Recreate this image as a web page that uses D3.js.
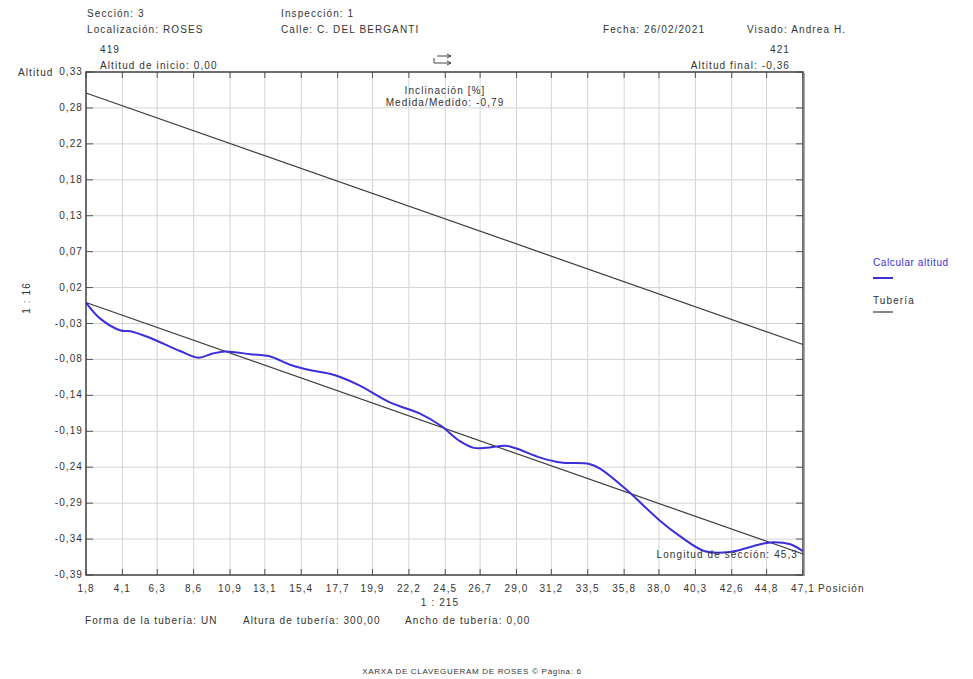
<!DOCTYPE html>
<html>
<head>
<meta charset="utf-8">
<script src="https://cdn.jsdelivr.net/npm/d3@7"></script>
<style>
  body { margin: 0; background: #fff; }
  svg text { font-family: "Liberation Sans", Arial, sans-serif; font-size: 10px; fill: #333; letter-spacing: 1.1px; }
</style>
</head>
<body>
<div id="chart"></div>
<script>
// section profile data
var xTickValues = [1.8, 4.1, 6.3, 8.6, 10.9, 13.1, 15.4, 17.7, 19.9, 22.2, 24.5, 26.7, 29.0, 31.2, 33.5, 35.8, 38.0, 40.3, 42.6, 44.8, 47.1];
var yTickLabels = ["0,33", "0,28", "0,22", "0,18", "0,13", "0,07", "0,02", "-0,03", "-0,08", "-0,14", "-0,19", "-0,24", "-0,29", "-0,34", "-0,39"];
var yDomain = [-0.39, 0.33];

// measured altitude ("Calcular altitud")
var posicion = [1.8, 2.7, 4.0, 4.6, 5.8, 7.7, 8.9, 9.8, 10.6, 12.2, 13.4, 14.7, 16.0, 17.2, 17.9, 19.1, 21.0, 22.9, 24.2, 25.4, 26.3, 27.1, 28.3, 29.0, 30.5, 31.8, 33.6, 34.3, 35.9, 38.1, 39.3, 40.9, 42.5, 44.4, 45.2, 46.3, 47.1];
var altitud = [0.000, -0.023, -0.040, -0.041, -0.050, -0.069, -0.079, -0.073, -0.070, -0.074, -0.077, -0.089, -0.097, -0.102, -0.107, -0.119, -0.143, -0.159, -0.176, -0.198, -0.208, -0.208, -0.205, -0.209, -0.222, -0.229, -0.231, -0.238, -0.267, -0.313, -0.334, -0.356, -0.357, -0.346, -0.343, -0.346, -0.356];

// pipe (Tubería): invert from start to end altitude, crown = invert + pipe height
var tuberiaX = [1.8, 47.1];
var tuberiaInvert = [0.00, -0.36];
var pipeHeight = 0.30;

const W = 973, H = 679;
const pLeft = 86, pRight = 803, pTop = 72, pBottom = 575;

var svg = d3.select("#chart").append("svg")
  .attr("width", W)
  .attr("height", H);

var x = d3.scaleLinear().domain([1.8, 47.1]).range([pLeft, pRight]);
var y = d3.scaleLinear().domain(yDomain).range([pBottom, pTop]);
var yLab = d3.scalePoint().domain(yTickLabels).range([pTop, pBottom]);

// grid
svg.append("g").selectAll("line")
  .data(xTickValues).enter().append("line")
  .attr("x1", d => x(d)).attr("x2", d => x(d))
  .attr("y1", pTop).attr("y2", pBottom)
  .style("stroke", "#d4d4d4").style("stroke-width", 1);

svg.append("g").selectAll("line")
  .data(yTickLabels).enter().append("line")
  .attr("x1", pLeft).attr("x2", pRight)
  .attr("y1", d => yLab(d)).attr("y2", d => yLab(d))
  .style("stroke", "#d4d4d4").style("stroke-width", 1);

// inner tick marks
var tk = svg.append("g").style("stroke", "#555").style("stroke-width", 1);
xTickValues.forEach(function(d) {
  tk.append("line").attr("x1", x(d)).attr("x2", x(d)).attr("y1", pTop).attr("y2", pTop + 6);
  tk.append("line").attr("x1", x(d)).attr("x2", x(d)).attr("y1", pBottom).attr("y2", pBottom - 6);
});
yTickLabels.forEach(function(d) {
  tk.append("line").attr("x1", pLeft).attr("x2", pLeft + 7).attr("y1", yLab(d)).attr("y2", yLab(d));
  tk.append("line").attr("x1", pRight).attr("x2", pRight - 7).attr("y1", yLab(d)).attr("y2", yLab(d));
});

// frame
svg.append("rect")
  .attr("x", pLeft).attr("y", pTop)
  .attr("width", pRight - pLeft).attr("height", pBottom - pTop)
  .style("fill", "none").style("stroke", "#444").style("stroke-width", 1.5);
svg.append("line").attr("x1", pRight + 1).attr("x2", pRight + 1).attr("y1", pTop + 1).attr("y2", pBottom + 1)
  .style("stroke", "#888").style("stroke-width", 1.5);

// pipe lines
var line = d3.line().x(d => x(d[0])).y(d => y(d[1]));
var invertPts = tuberiaX.map((d, i) => [d, tuberiaInvert[i]]);
var crownPts = tuberiaX.map((d, i) => [d, tuberiaInvert[i] + pipeHeight]);
svg.append("path").attr("d", line(crownPts))
  .style("fill", "none").style("stroke", "#3a3a3a").style("stroke-width", 1.2);
svg.append("path").attr("d", line(invertPts))
  .style("fill", "none").style("stroke", "#3a3a3a").style("stroke-width", 1.2);

// measured profile
var medido = posicion.map((d, i) => [d, altitud[i]]);
svg.append("path")
  .attr("d", d3.line().x(d => x(d[0])).y(d => y(d[1])).curve(d3.curveCatmullRom)(medido))
  .style("fill", "none").style("stroke", "#3b2fd8").style("stroke-width", 2);

// axis labels
svg.append("g").selectAll("text")
  .data(yTickLabels).enter().append("text")
  .attr("x", pLeft - 3).attr("y", d => yLab(d) + 3)
  .attr("text-anchor", "end")
  .text(d => d);

svg.append("g").selectAll("text")
  .data(xTickValues).enter().append("text")
  .attr("x", d => x(d)).attr("y", pBottom + 17)
  .attr("text-anchor", "middle")
  .text(d => d.toFixed(1).replace(".", ","));

svg.append("text").attr("x", 18).attr("y", 76).text("Altitud");
svg.append("text").attr("x", 818).attr("y", pBottom + 17).text("Posición");
svg.append("text").attr("x", 440).attr("y", 606).attr("text-anchor", "middle").text("1 : 215");
svg.append("text").attr("transform", "translate(30,298) rotate(-90)").attr("text-anchor", "middle").text("1 : 16");

// header
svg.append("text").attr("x", 87).attr("y", 17).text("Sección:  3");
svg.append("text").attr("x", 87).attr("y", 33).text("Localización:  ROSES");
svg.append("text").attr("x", 281).attr("y", 17).text("Inspección:  1");
svg.append("text").attr("x", 281).attr("y", 33).text("Calle:  C. DEL  BERGANTI");
svg.append("text").attr("x", 603).attr("y", 33).text("Fecha:  26/02/2021");
svg.append("text").attr("x", 747).attr("y", 33).text("Visado:  Andrea H.");

svg.append("text").attr("x", 100).attr("y", 53).text("419");
svg.append("text").attr("x", 100).attr("y", 69).text("Altitud de inicio: 0,00");
svg.append("text").attr("x", 790).attr("y", 53).attr("text-anchor", "end").text("421");
svg.append("text").attr("x", 790).attr("y", 69).attr("text-anchor", "end").text("Altitud final: -0,36");

// flow direction glyph
var fg = svg.append("g").style("stroke", "#444").style("stroke-width", 1).style("fill", "none");
fg.append("line").attr("x1", 437).attr("x2", 451).attr("y1", 56).attr("y2", 56);
fg.append("path").attr("d", "M447,54 L451,56 L447,58");
fg.append("line").attr("x1", 434).attr("x2", 434).attr("y1", 58).attr("y2", 63);
fg.append("line").attr("x1", 434).attr("x2", 451).attr("y1", 63).attr("y2", 63);
fg.append("path").attr("d", "M447,61 L451,63 L447,65");

svg.append("text").attr("x", 445).attr("y", 94).attr("text-anchor", "middle").text("Inclinación [%]");
svg.append("text").attr("x", 445).attr("y", 106).attr("text-anchor", "middle").text("Medida/Medido: -0,79");

svg.append("text").attr("x", 798).attr("y", 558).attr("text-anchor", "end").text("Longitud de sección: 45,3");

// legend
svg.append("text").attr("x", 873).attr("y", 266).style("fill", "#3b2fd8").style("letter-spacing", "0.6px").text("Calcular altitud");
svg.append("line").attr("x1", 873).attr("x2", 893).attr("y1", 278).attr("y2", 278)
  .style("stroke", "#3b2fd8").style("stroke-width", 2);
svg.append("text").attr("x", 873).attr("y", 304).text("Tubería");
svg.append("line").attr("x1", 873).attr("x2", 893).attr("y1", 312).attr("y2", 312)
  .style("stroke", "#3a3a3a").style("stroke-width", 1.2);

// footer
svg.append("text").attr("x", 85).attr("y", 624).text("Forma de la tubería:  UN");
svg.append("text").attr("x", 243).attr("y", 624).text("Altura de tubería:  300,00");
svg.append("text").attr("x", 405).attr("y", 624).text("Ancho de tubería:  0,00");
svg.append("text").attr("x", 472).attr("y", 674).attr("text-anchor", "middle")
  .style("font-size", "8px").style("letter-spacing", "0.7px")
  .text("XARXA DE CLAVEGUERAM DE ROSES  ©  Página: 6");
</script>
</body>
</html>
